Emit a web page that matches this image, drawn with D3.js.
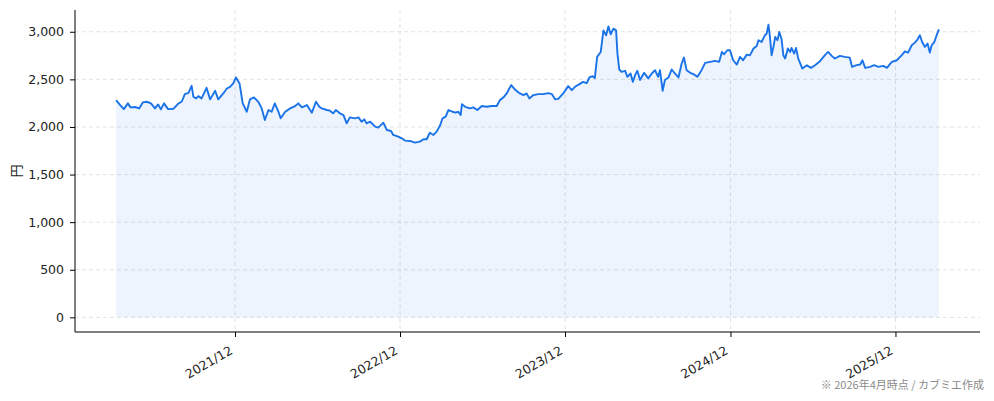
<!DOCTYPE html>
<html>
<head>
<meta charset="utf-8">
<script src="https://cdn.jsdelivr.net/npm/d3@7"></script>
<style>
  html, body { margin: 0; padding: 0; background: #fff; }
  svg { display: block; }
  .tick text { font-family: "DejaVu Sans", sans-serif; font-size: 12.5px; fill: #222; }
</style>
</head>
<body>
<svg id="chart" width="994" height="401"></svg>
<script>
// price readings (date, yen)
const dates = [
  "2021-03-13","2021-03-22","2021-03-30","2021-04-08","2021-04-14","2021-04-24","2021-05-03","2021-05-11",
  "2021-05-20","2021-05-29","2021-06-07","2021-06-14","2021-06-20","2021-06-27","2021-07-06","2021-07-18",
  "2021-07-29","2021-08-05","2021-08-12","2021-08-20","2021-08-27","2021-08-31","2021-09-06","2021-09-11",
  "2021-09-18","2021-09-29","2021-10-07","2021-10-18","2021-10-25","2021-11-05","2021-11-13","2021-11-20",
  "2021-11-27","2021-12-03","2021-12-11","2021-12-18","2021-12-27","2022-01-03","2022-01-12","2022-01-22",
  "2022-01-29","2022-02-05","2022-02-13","2022-02-20","2022-02-27","2022-03-07","2022-03-12","2022-03-22",
  "2022-04-02","2022-04-13","2022-04-20","2022-04-28","2022-05-09","2022-05-20","2022-05-29","2022-06-06",
  "2022-06-11","2022-06-22","2022-06-29","2022-07-06","2022-07-12","2022-07-21","2022-07-29","2022-08-05",
  "2022-08-12","2022-08-23","2022-08-31","2022-09-07","2022-09-13","2022-09-18","2022-09-26","2022-10-07",
  "2022-10-14","2022-10-25","2022-11-02","2022-11-11","2022-11-16","2022-11-27","2022-12-05","2022-12-12",
  "2022-12-23","2023-01-03","2023-01-14","2023-01-22","2023-01-29","2023-02-05","2023-02-13","2023-02-20",
  "2023-02-28","2023-03-05","2023-03-12","2023-03-18","2023-03-27","2023-04-03","2023-04-09","2023-04-14",
  "2023-04-17","2023-04-24","2023-05-05","2023-05-12","2023-05-21","2023-05-31","2023-06-11","2023-06-22",
  "2023-07-03","2023-07-10","2023-07-18","2023-07-25","2023-08-04","2023-08-12","2023-08-21","2023-08-31",
  "2023-09-07","2023-09-13","2023-09-22","2023-10-03","2023-10-14","2023-10-25","2023-11-02","2023-11-09",
  "2023-11-16","2023-11-27","2023-12-08","2023-12-16","2023-12-23","2024-01-02","2024-01-10","2024-01-18",
  "2024-01-24","2024-01-31","2024-02-05","2024-02-10","2024-02-18","2024-02-24","2024-03-01","2024-03-06",
  "2024-03-11","2024-03-17","2024-03-23","2024-03-26","2024-03-30","2024-04-04","2024-04-12","2024-04-17",
  "2024-04-24","2024-04-29","2024-05-04","2024-05-09","2024-05-15","2024-05-24","2024-06-02","2024-06-10",
  "2024-06-17","2024-06-24","2024-06-28","2024-07-04","2024-07-09","2024-07-17","2024-07-24","2024-07-31",
  "2024-08-08","2024-08-15","2024-08-20","2024-08-26","2024-09-03","2024-09-10","2024-09-19","2024-09-28",
  "2024-10-06","2024-10-17","2024-10-28","2024-11-06","2024-11-12","2024-11-17","2024-11-24","2024-11-30",
  "2024-12-07","2024-12-15","2024-12-22","2024-12-29","2025-01-06","2025-01-13","2025-01-21","2025-01-28",
  "2025-02-01","2025-02-08","2025-02-15","2025-02-19","2025-02-23","2025-02-26","2025-03-02","2025-03-06",
  "2025-03-10","2025-03-15","2025-03-19","2025-03-24","2025-03-28","2025-04-01","2025-04-07","2025-04-12",
  "2025-04-15","2025-04-21","2025-04-25","2025-04-30","2025-05-09","2025-05-19","2025-05-28","2025-06-06",
  "2025-06-17","2025-06-28","2025-07-05","2025-07-13","2025-07-20","2025-07-31","2025-08-11","2025-08-22",
  "2025-08-27","2025-09-06","2025-09-14","2025-09-19","2025-09-25","2025-10-06","2025-10-15","2025-10-24",
  "2025-11-04","2025-11-12","2025-11-23","2025-12-04","2025-12-15","2025-12-22","2025-12-29","2026-01-06",
  "2026-01-13","2026-01-19","2026-01-24","2026-01-29","2026-02-04","2026-02-10","2026-02-15","2026-02-19",
  "2026-02-25","2026-03-02","2026-03-07"
];
const prices = [
  2282,2230,2188,2248,2206,2210,2195,2258,
  2265,2248,2195,2237,2185,2248,2188,2192,
  2248,2265,2345,2359,2432,2317,2300,2324,
  2300,2411,2290,2380,2290,2352,2404,2422,
  2457,2520,2457,2248,2160,2290,2311,2260,
  2195,2073,2178,2160,2248,2160,2091,2160,
  2195,2220,2248,2206,2230,2150,2265,2210,
  2195,2178,2171,2143,2178,2143,2125,2038,
  2101,2091,2101,2055,2080,2038,2055,2003,
  1993,2045,1968,1958,1916,1898,1881,1857,
  1853,1836,1846,1871,1871,1940,1916,1951,
  2021,2091,2108,2178,2160,2150,2160,2125,
  2240,2212,2195,2206,2178,2220,2212,2220,
  2220,2282,2311,2352,2440,2394,2359,2335,
  2352,2300,2335,2345,2345,2355,2345,2290,
  2295,2352,2429,2387,2422,2450,2474,2460,
  2520,2534,2515,2736,2788,3015,2963,3057,
  2973,3033,3015,2771,2604,2579,2590,2527,
  2562,2474,2545,2590,2494,2569,2510,2562,
  2597,2527,2597,2380,2494,2520,2604,2562,
  2520,2666,2729,2597,2569,2555,2527,2597,
  2673,2684,2694,2684,2788,2764,2806,2806,
  2701,2656,2736,2701,2760,2752,2824,2851,
  2911,2893,2963,2980,3075,2963,2754,2841,
  2945,2911,2998,2921,2754,2719,2824,2788,
  2830,2771,2830,2719,2614,2649,2621,2649,
  2691,2754,2788,2747,2719,2747,2736,2728,
  2631,2649,2656,2701,2621,2631,2649,2631,
  2642,2621,2684,2701,2754,2795,2782,2858,
  2886,2921,2963,2893,2841,2876,2782,2858,
  2893,2963,3026
];
const yTicks = [0, 500, 1000, 1500, 2000, 2500, 3000];
const xTickDates = ["2021-12-01","2022-12-01","2023-12-01","2024-12-01","2025-12-01"];
const yLabel = "円";
const footnote = "※ 2026年4月時点 / カブミエ作成";

const parseDate = d3.timeParse("%Y-%m-%d");
const data = dates.map((d, i) => ({ date: parseDate(d), value: prices[i] }));

const svg = d3.select("#chart");
const margin = { top: 10, right: 14, bottom: 69, left: 75 };
const W = 994, H = 401;
const innerW = W - margin.left - margin.right;
const innerH = H - margin.top - margin.bottom;

// matplotlib-style 5% padding
const xExt = d3.extent(data, d => d.date);
const xPad = (xExt[1] - xExt[0]) * 0.05;
const yMax = d3.max(data, d => d.value);
const yPad = yMax * 0.05;

const x = d3.scaleTime()
  .domain([new Date(+xExt[0] - xPad), new Date(+xExt[1] + xPad)])
  .range([0, innerW]);
const y = d3.scaleLinear()
  .domain([-yPad, yMax + yPad])
  .range([innerH, 0]);

const g = svg.append("g").attr("transform", `translate(${margin.left},${margin.top})`);

// grid
g.append("g").selectAll("line")
  .data(yTicks).join("line")
  .attr("x1", 0).attr("x2", innerW)
  .attr("y1", d => y(d)).attr("y2", d => y(d))
  .attr("stroke", "#dcdcdc").attr("stroke-width", 0.8)
  .attr("stroke-dasharray", "4,3");
g.append("g").selectAll("line")
  .data(xTickDates.map(parseDate)).join("line")
  .attr("x1", d => x(d)).attr("x2", d => x(d))
  .attr("y1", 0).attr("y2", innerH)
  .attr("stroke", "#dcdcdc").attr("stroke-width", 0.8)
  .attr("stroke-dasharray", "4,3");

// area + line
const area = d3.area()
  .x(d => x(d.date))
  .y0(y(0))
  .y1(d => y(d.value));
g.append("path").datum(data)
  .attr("d", area)
  .attr("fill", "#1a73e8").attr("fill-opacity", 0.08);

const line = d3.line()
  .x(d => x(d.date))
  .y(d => y(d.value));
g.append("path").datum(data)
  .attr("d", line)
  .attr("fill", "none")
  .attr("stroke", "#1a73e8")
  .attr("stroke-width", 1.9)
  .attr("stroke-linejoin", "round");

// axes
const yAxis = g.append("g")
  .call(d3.axisLeft(y).tickValues(yTicks).tickFormat(d3.format(",")).tickSizeOuter(0).tickSize(5).tickPadding(6));
yAxis.select(".domain").attr("stroke", "#000").attr("d", `M0,0V${innerH}`);

const xAxis = g.append("g")
  .attr("transform", `translate(0,${innerH})`)
  .call(d3.axisBottom(x).tickValues(xTickDates.map(parseDate)).tickFormat(d3.timeFormat("%Y/%m")).tickSizeOuter(0).tickSize(5));
xAxis.select(".domain").attr("stroke", "#000").attr("d", `M0,0H${innerW}`);
xAxis.selectAll("text")
  .attr("text-anchor", "end")
  .attr("dy", null).attr("y", 0)
  .attr("transform", "translate(-2,21) rotate(-30)");

// y label
svg.append("text")
  .attr("transform", `translate(21,${margin.top + innerH / 2}) rotate(-90)`)
  .attr("text-anchor", "middle")
  .style("font-family", "'Noto Sans CJK JP'")
  .style("font-size", "13px").attr("fill", "#222")
  .text(yLabel);

// footnote
svg.append("text")
  .attr("x", W - 10).attr("y", 389)
  .attr("text-anchor", "end")
  .style("font-family", "'Noto Sans CJK JP'")
  .style("font-size", "11px").attr("fill", "#8a8a8a")
  .text(footnote);
</script>
</body>
</html>
